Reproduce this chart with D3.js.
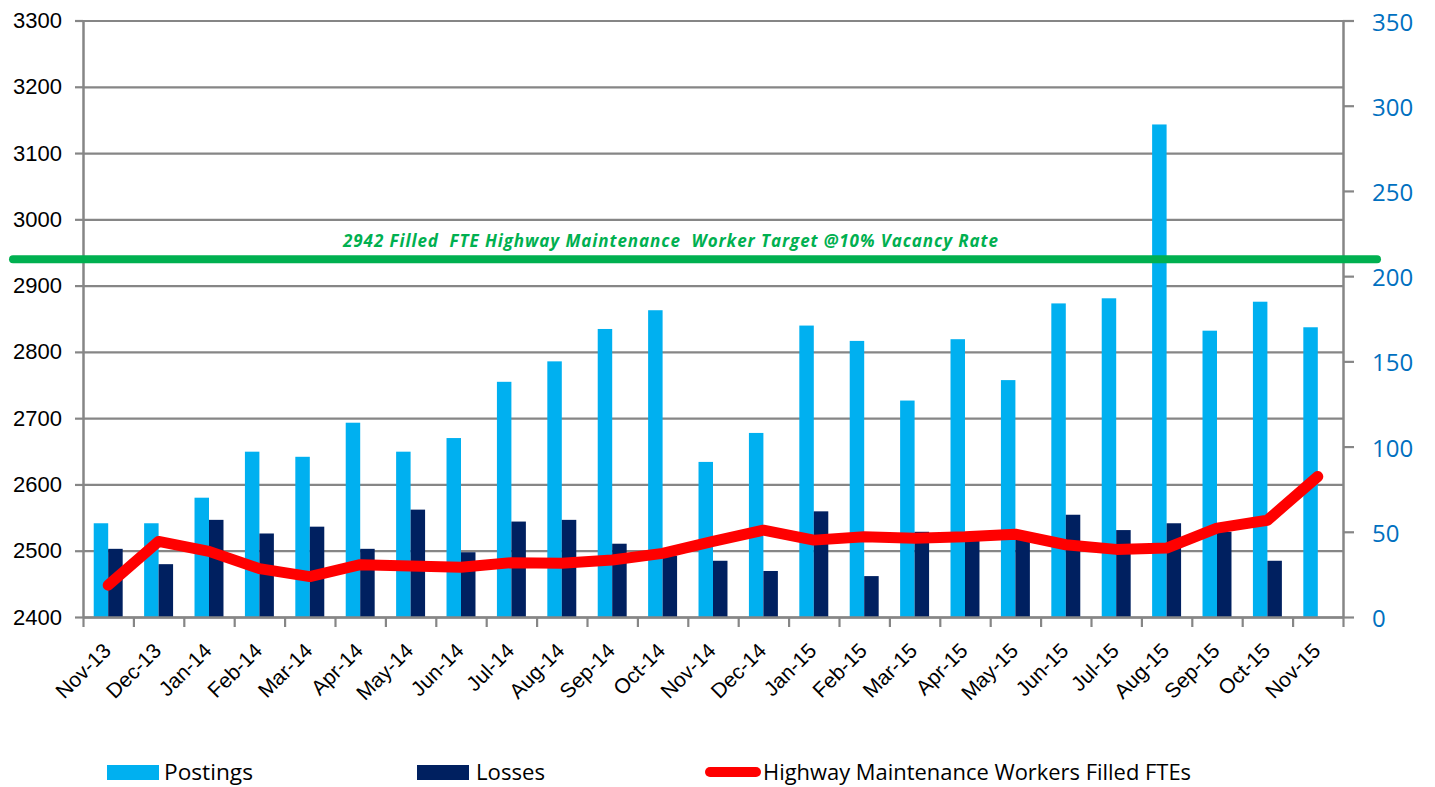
<!DOCTYPE html>
<html>
<head>
<meta charset="utf-8">
<script src="https://cdn.jsdelivr.net/npm/d3@7"></script>
<style>
  body { margin: 0; background: #fff; }
  svg { display: block; }
</style>
</head>
<body>
<div id="chart"></div>
<script>
'use strict';

// Data
var months = ['Nov-13', 'Dec-13', 'Jan-14', 'Feb-14', 'Mar-14', 'Apr-14', 'May-14', 'Jun-14',
  'Jul-14', 'Aug-14', 'Sep-14', 'Oct-14', 'Nov-14', 'Dec-14', 'Jan-15', 'Feb-15', 'Mar-15',
  'Apr-15', 'May-15', 'Jun-15', 'Jul-15', 'Aug-15', 'Sep-15', 'Oct-15', 'Nov-15'];
var postings = [55, 55, 70, 97, 94, 114, 97, 105, 138, 150, 169, 180, 91, 108, 171, 162, 127,
  163, 139, 184, 187, 289, 168, 185, 170];
var losses = [40, 31, 57, 49, 53, 40, 63, 38, 56, 57, 43, 36, 33, 27, 62, 24, 50,
  48, 46, 60, 51, 55, 50, 33, null];
var filledFTEs = [2448, 2514, 2499, 2473, 2461, 2479, 2477, 2475, 2482, 2481, 2486, 2496, 2514,
  2531, 2516, 2521, 2519, 2521, 2525, 2509, 2502, 2504, 2534, 2546, 2612];
var target = 2942;
var targetLabel = '2942 Filled  FTE Highway Maintenance  Worker Target @10% Vacancy Rate';
var leftTicks = [2400, 2500, 2600, 2700, 2800, 2900, 3000, 3100, 3200, 3300];
var rightTicks = [0, 50, 100, 150, 200, 250, 300, 350];
var seriesNames = ['Postings', 'Losses', 'Highway Maintenance Workers Filled FTEs'];

var W = 1435, H = 787;
var margin = {top: 20.5, right: 92, bottom: 170, left: 83};
var plotW = W - margin.left - margin.right;   // 1260
var plotH = H - margin.top - margin.bottom;
var bottomY = margin.top + plotH;             // ~617

var gridColor = '#868686';
var postColor = '#00b0f0';
var lossColor = '#002060';

var svg = d3.select('#chart').append('svg')
  .attr('width', W)
  .attr('height', H);

// Scales
var x = d3.scaleBand().domain(months).range([margin.left, margin.left + plotW]).padding(0);
var xSub = d3.scaleBand().domain(['p', 'l']).range([0, x.bandwidth()])
  .paddingInner(0).paddingOuter(0.74);
var xEdge = d3.scaleLinear().domain([0, months.length]).range([margin.left, margin.left + plotW]);
var yLeft = d3.scaleLinear().domain([2400, 3300]).range([bottomY, margin.top]);
var yRight = d3.scaleLinear().domain([0, 350]).range([bottomY, margin.top]);

// Gridlines
var grid = svg.append('g')
  .attr('transform', 'translate(' + margin.left + ',0)')
  .call(d3.axisLeft(yLeft).tickValues(leftTicks).tickSize(-plotW).tickFormat(''));
grid.select('.domain').remove();
grid.selectAll('line').attr('stroke', gridColor).attr('stroke-width', 2.2);

// Bars
svg.append('g').selectAll('rect.post')
  .data(postings)
  .join('rect')
  .attr('x', function(d, i) { return x(months[i]) + xSub('p'); })
  .attr('y', function(d) { return yRight(d); })
  .attr('width', xSub.bandwidth())
  .attr('height', function(d) { return yRight(0) - yRight(d); })
  .attr('fill', postColor);

svg.append('g').selectAll('rect.loss')
  .data(losses.map(function(v, i) { return {v: v, m: months[i]}; }).filter(function(d) { return d.v != null; }))
  .join('rect')
  .attr('x', function(d) { return x(d.m) + xSub('l'); })
  .attr('y', function(d) { return yRight(d.v); })
  .attr('width', xSub.bandwidth())
  .attr('height', function(d) { return yRight(0) - yRight(d.v); })
  .attr('fill', lossColor);

// Left axis
var leftAxis = svg.append('g')
  .attr('transform', 'translate(' + margin.left + ',0)')
  .call(d3.axisLeft(yLeft).tickValues(leftTicks).tickFormat(d3.format('d'))
    .tickSize(8).tickSizeOuter(0).tickPadding(13));
leftAxis.select('.domain').attr('stroke', gridColor).attr('stroke-width', 2.5);
leftAxis.selectAll('line').attr('stroke', gridColor).attr('stroke-width', 2.2);
leftAxis.selectAll('text')
  .attr('fill', '#000')
  .style('font-family', '"Liberation Sans", Arial, sans-serif')
  .style('font-size', '22px');

// Right axis
var rightAxis = svg.append('g')
  .attr('transform', 'translate(' + (margin.left + plotW) + ',0)')
  .call(d3.axisRight(yRight).tickValues(rightTicks).tickSize(11).tickSizeOuter(0).tickPadding(18));
rightAxis.select('.domain').attr('stroke', gridColor).attr('stroke-width', 2.5);
rightAxis.selectAll('line').attr('stroke', gridColor).attr('stroke-width', 2.2);
rightAxis.selectAll('text')
  .attr('fill', '#0070c0')
  .attr('dy', '0.4em')
  .style('font-family', '"Open Sans", sans-serif')
  .style('font-size', '24px');

// Bottom axis: tick marks at category edges
var edgeAxis = svg.append('g')
  .attr('transform', 'translate(0,' + bottomY + ')')
  .call(d3.axisBottom(xEdge).tickValues(d3.range(months.length + 1)).tickSize(10).tickSizeOuter(0).tickFormat(''));
edgeAxis.select('.domain').attr('stroke', gridColor).attr('stroke-width', 2.5);
edgeAxis.selectAll('line').attr('stroke', gridColor).attr('stroke-width', 2.2);

// Bottom axis: rotated category labels
var labelAxis = svg.append('g')
  .attr('transform', 'translate(0,' + bottomY + ')')
  .call(d3.axisBottom(x).tickSize(0));
labelAxis.select('.domain').remove();
labelAxis.selectAll('text')
  .attr('x', 0)
  .attr('y', 0)
  .attr('dy', 0)
  .attr('text-anchor', 'end')
  .attr('transform', 'translate(4,35) rotate(-45)')
  .attr('fill', '#000')
  .style('font-family', '"Liberation Sans", Arial, sans-serif')
  .style('font-size', '21px');

// Target line
svg.append('line')
  .attr('x1', 13)
  .attr('x2', 1377)
  .attr('y1', yLeft(target) + 1.5)
  .attr('y2', yLeft(target) + 1.5)
  .attr('stroke', '#00b050')
  .attr('stroke-width', 8)
  .attr('stroke-linecap', 'round');

svg.append('text')
  .attr('x', 343)
  .attr('y', 247)
  .attr('fill', '#00b050')
  .attr('textLength', 655)
  .attr('lengthAdjust', 'spacing')
  .style('white-space', 'pre')
  .style('font-family', '"Open Sans", sans-serif')
  .style('font-weight', 'bold')
  .style('font-style', 'italic')
  .style('font-size', '17px')
  .text(targetLabel);

// Filled FTEs line
var line = d3.line()
  .x(function(d, i) { return x(months[i]) + x.bandwidth() / 2; })
  .y(function(d) { return yLeft(d); });

svg.append('path')
  .datum(filledFTEs)
  .attr('d', line)
  .attr('fill', 'none')
  .attr('stroke', '#ff0000')
  .attr('stroke-width', 11)
  .attr('stroke-linejoin', 'round')
  .attr('stroke-linecap', 'round');

// Legend
var legend = svg.append('g')
  .style('font-family', '"Open Sans", sans-serif')
  .style('font-size', '22px');

legend.append('rect').attr('x', 107).attr('y', 765).attr('width', 52).attr('height', 15).attr('fill', postColor);
legend.append('text').attr('x', 164).attr('y', 780).attr('textLength', 89).attr('lengthAdjust', 'spacingAndGlyphs').text(seriesNames[0]);

legend.append('rect').attr('x', 417).attr('y', 765).attr('width', 52).attr('height', 15).attr('fill', lossColor);
legend.append('text').attr('x', 476).attr('y', 780).attr('textLength', 69).attr('lengthAdjust', 'spacingAndGlyphs').text(seriesNames[1]);

legend.append('line').attr('x1', 710).attr('x2', 756).attr('y1', 772).attr('y2', 772)
  .attr('stroke', '#ff0000').attr('stroke-width', 10).attr('stroke-linecap', 'round');
legend.append('text').attr('x', 763).attr('y', 780).attr('textLength', 428).attr('lengthAdjust', 'spacingAndGlyphs').text(seriesNames[2]);
</script>
</body>
</html>
